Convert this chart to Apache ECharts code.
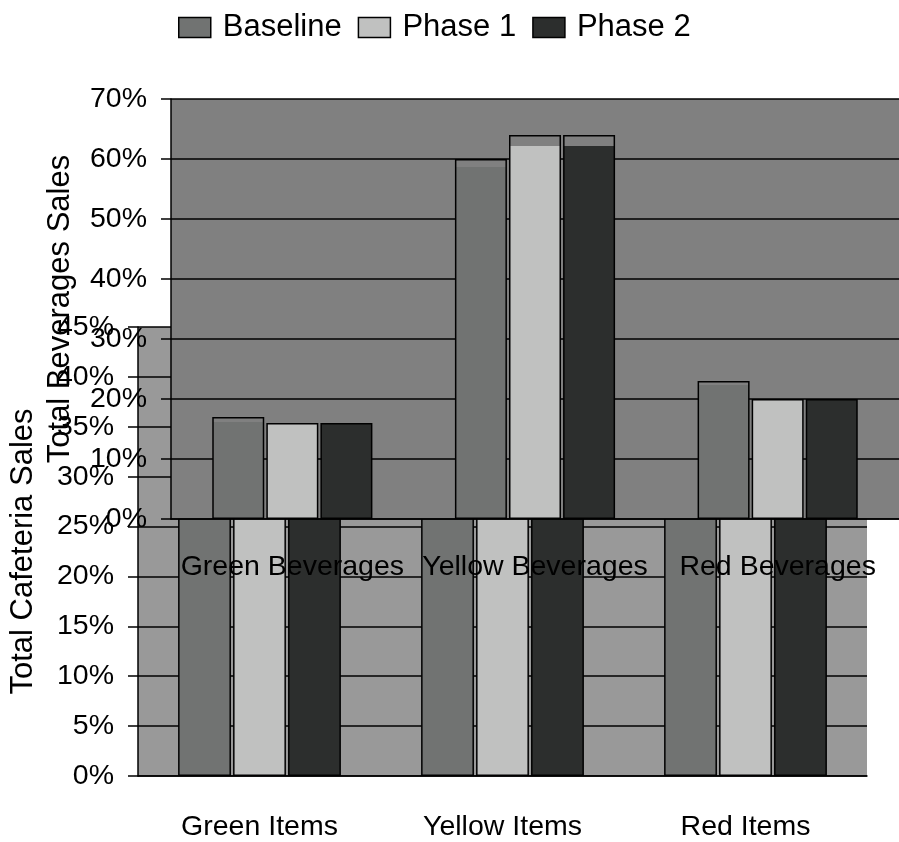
<!DOCTYPE html>
<html>
<head>
<meta charset="utf-8">
<script src="https://cdn.jsdelivr.net/npm/echarts@6/dist/echarts.min.js"></script>
<style>
  html, body { margin: 0; padding: 0; background: #fff; }
  #chart { width: 899px; height: 842px; }
</style>
</head>
<body>
<div id="chart"></div>
<script>
// back chart: share of total cafeteria sales (bars mostly hidden behind the beverages chart)
const itemCategories = ['Green Items', 'Yellow Items', 'Red Items'];
const itemsBaseline = [41, 33, 26];
const itemsPhase1 = [43, 31, 26];
const itemsPhase2 = [44, 30, 26];

// front chart: share of total beverage sales
const beverageCategories = ['Green Beverages', 'Yellow Beverages', 'Red Beverages'];
const beveragesBaseline = [17, 60, 23];
const beveragesPhase1 = [16, 64, 20];
const beveragesPhase2 = [16, 64, 20];
// filled part of each beverage bar (outline sits a bit higher on some bars)
const beveragesBaselineFill = [16.2, 58.6, 22.4];
const beveragesPhase1Fill = [16, 62.2, 19.8];
const beveragesPhase2Fill = [15.9, 62.2, 19.8];

const seriesNames = ['Baseline', 'Phase 1', 'Phase 2'];
const colors = ['#717372', '#c0c1c0', '#2c2e2d'];
const frontBg = '#808080';
const backBg = '#999999';
const font = 'Liberation Sans, Arial, sans-serif';

function filledBars(values, fills, color) {
  return values.map(function (v, i) {
    const f = Math.max(0, (v - fills[i]) / v);
    return {
      value: v,
      itemStyle: {
        color: new echarts.graphic.LinearGradient(0, 0, 0, 1, [
          {offset: 0, color: frontBg},
          {offset: f, color: frontBg},
          {offset: f, color: color},
          {offset: 1, color: color}
        ])
      }
    };
  });
}

const chart = echarts.init(document.getElementById('chart'));

const itemData = [itemsBaseline, itemsPhase1, itemsPhase2];
const bevData = [
  filledBars(beveragesBaseline, beveragesBaselineFill, colors[0]),
  filledBars(beveragesPhase1, beveragesPhase1Fill, colors[1]),
  filledBars(beveragesPhase2, beveragesPhase2Fill, colors[2])
];

const series = [];
for (let i = 0; i < 3; i++) {
  series.push({
    name: seriesNames[i],
    type: 'bar',
    xAxisIndex: 0,
    yAxisIndex: 0,
    barCategoryGap: '33%',
    barGap: '4%',
    z: 2,
    itemStyle: {color: colors[i], borderColor: '#000', borderWidth: 1.5},
    data: itemData[i]
  });
}
for (let i = 0; i < 3; i++) {
  series.push({
    name: seriesNames[i],
    type: 'bar',
    xAxisIndex: 1,
    yAxisIndex: 1,
    barCategoryGap: '34%',
    barGap: '4%',
    z: 12,
    itemStyle: {color: colors[i], borderColor: '#000', borderWidth: 1.5},
    data: bevData[i]
  });
}

const axisText = {fontFamily: font, fontSize: 28.5, color: '#000'};
const nameText = {fontFamily: font, fontSize: 31, color: '#000'};

chart.setOption({
  animation: false,
  textStyle: {fontFamily: font},
  legend: {
    data: seriesNames,
    left: 173,
    top: 7,
    icon: 'rect',
    itemWidth: 32,
    itemHeight: 20,
    itemGap: 16,
    itemStyle: {borderColor: '#000', borderWidth: 1.5},
    textStyle: {fontFamily: font, fontSize: 31, color: '#000', padding: [0, 0, 0, 7]}
  },
  grid: [
    {left: 136, top: 327, width: 731, height: 449, show: true, backgroundColor: backBg, borderWidth: 0, z: 0},
    {left: 171, top: 99, width: 732, height: 420, show: true, backgroundColor: frontBg, borderWidth: 0, z: 10}
  ],
  xAxis: [
    {
      type: 'category',
      gridIndex: 0,
      data: itemCategories,
      axisLine: {lineStyle: {color: '#000', width: 1.5}},
      axisTick: {length: 11, lineStyle: {color: '#000', width: 1.5}},
      axisLabel: Object.assign({interval: 0, margin: 37}, axisText)
    },
    {
      type: 'category',
      gridIndex: 1,
      data: beverageCategories,
      z: 11,
      axisLine: {lineStyle: {color: '#000', width: 1.5}},
      axisTick: {length: 8, lineStyle: {color: '#000', width: 1.5}},
      axisLabel: Object.assign({interval: 0, margin: 34}, axisText)
    }
  ],
  yAxis: [
    {
      type: 'value',
      gridIndex: 0,
      min: 0,
      max: 45,
      interval: 5,
      name: 'Total Cafeteria Sales',
      nameLocation: 'middle',
      nameGap: 99,
      nameTextStyle: nameText,
      axisLine: {show: true, lineStyle: {color: '#000', width: 1.5}},
      axisTick: {show: true, length: 10, lineStyle: {color: '#000', width: 1.5}},
      axisLabel: Object.assign({formatter: '{value}%', margin: 24}, axisText),
      splitLine: {lineStyle: {color: '#000', width: 1.5}}
    },
    {
      type: 'value',
      gridIndex: 1,
      min: 0,
      max: 70,
      interval: 10,
      z: 11,
      name: 'Total Beverages Sales',
      nameLocation: 'middle',
      nameGap: 95,
      nameTextStyle: nameText,
      axisLine: {show: true, lineStyle: {color: '#000', width: 1.5}},
      axisTick: {show: true, length: 10, lineStyle: {color: '#000', width: 1.5}},
      axisLabel: Object.assign({formatter: '{value}%', margin: 24}, axisText),
      splitLine: {lineStyle: {color: '#000', width: 1.5}}
    }
  ],
  series: series
});
</script>
</body>
</html>
